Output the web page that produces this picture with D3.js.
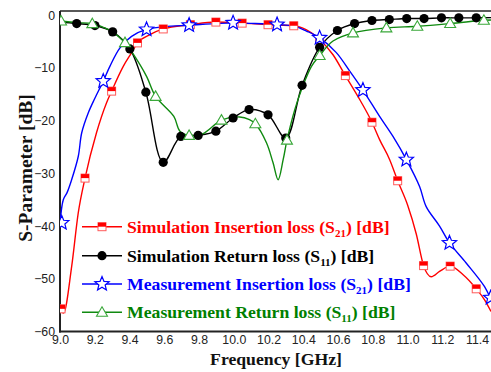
<!DOCTYPE html>
<html>
<head>
<meta charset="utf-8">
<script src="https://cdn.jsdelivr.net/npm/d3@7"></script>
<style>
  html, body { margin: 0; padding: 0; background: #fff; }
  svg { display: block; }
</style>
</head>
<body>
<svg id="chart" width="491" height="372"></svg>
<script>
// ---------- data (frequency in GHz, S-parameters in dB) ----------
const xTicks = [9.0, 9.2, 9.4, 9.6, 9.8, 10.0, 10.2, 10.4, 10.6, 10.8, 11.0, 11.2, 11.4];
const yTicks = [-60, -50, -40, -30, -20, -10, 0];

// Simulation insertion loss S21 (line)
const simS21Freq = [9.000, 9.020, 9.067, 9.105, 9.144, 9.210, 9.268, 9.297, 9.364, 9.412, 9.446, 9.517, 9.594, 9.750, 9.897, 10.048, 10.197, 10.345, 10.447, 10.494, 10.571, 10.642, 10.714, 10.795, 10.839, 10.897, 10.943, 11.000, 11.050, 11.092, 11.136, 11.184, 11.245, 11.318, 11.395, 11.443, 11.480];
const simS21dB   = [-55.7, -56.5, -47.7, -37.5, -30.9, -22.3, -16.6, -14.4, -9.7, -7.1, -5.25, -3.7, -2.6, -1.8, -1.3, -1.5, -1.8, -2.0, -3.35, -4.6, -7.5, -11.45, -15.4, -20.3, -23.6, -27.4, -31.4, -36.0, -41.5, -47.5, -49.6, -48.6, -47.6, -49.2, -51.9, -54.0, -56.2];
// Simulation insertion loss S21 (markers)
const simS21MkFreq = [9.006, 9.144, 9.297, 9.446, 9.594, 9.750, 9.897, 10.048, 10.197, 10.345, 10.494, 10.642, 10.795, 10.943, 11.092, 11.245, 11.395];
const simS21MkdB   = [-55.7, -30.9, -14.4, -5.25, -2.6, -1.8, -1.3, -1.5, -1.8, -2.0, -4.6, -11.45, -20.3, -31.4, -47.5, -47.6, -51.9];

// Simulation return loss S11 (line + markers)
const simS11Freq = [9.000, 9.096, 9.201, 9.303, 9.402, 9.494, 9.594, 9.695, 9.795, 9.897, 9.996, 10.088, 10.197, 10.299, 10.393, 10.494, 10.596, 10.695, 10.795, 10.895, 10.995, 11.095, 11.195, 11.295, 11.395, 11.480];
const simS11dB   = [-1.3, -1.58, -1.96, -3.16, -6.4, -14.6, -27.9, -23.0, -22.8, -22.0, -19.5, -17.9, -18.9, -23.3, -13.3, -6.1, -2.9, -1.58, -1.0, -0.82, -0.63, -0.63, -0.5, -0.5, -0.5, -0.45];
const simS11MkFreq = [9.096, 9.201, 9.303, 9.402, 9.494, 9.594, 9.695, 9.795, 9.897, 9.996, 10.088, 10.197, 10.299, 10.393, 10.494, 10.596, 10.695, 10.795, 10.895, 10.995, 11.095, 11.195, 11.295, 11.395];
const simS11MkdB   = [-1.58, -1.96, -3.16, -6.4, -14.6, -27.9, -23.0, -22.8, -22.0, -19.5, -17.9, -18.9, -23.3, -13.3, -6.1, -2.9, -1.58, -1.0, -0.82, -0.63, -0.63, -0.5, -0.5, -0.5];

// Measurement insertion loss S21
const measS21Freq = [9.000, 9.019, 9.040, 9.067, 9.105, 9.125, 9.163, 9.200, 9.249, 9.287, 9.345, 9.412, 9.498, 9.600, 9.743, 9.996, 10.100, 10.249, 10.350, 10.418, 10.494, 10.590, 10.667, 10.743, 10.839, 10.916, 10.993, 11.069, 11.107, 11.184, 11.241, 11.337, 11.443, 11.480];
const measS21dB   = [-39.6, -35.0, -33.7, -31.2, -26.8, -22.3, -18.5, -15.8, -12.5, -9.7, -6.2, -4.0, -2.7, -2.2, -1.9, -1.45, -1.55, -1.77, -2.1, -3.0, -4.3, -7.1, -10.6, -14.2, -19.2, -23.0, -27.4, -32.5, -36.3, -40.0, -43.2, -47.0, -51.5, -54.0];
const measS21MkFreq = [9.010, 9.249, 9.498, 9.743, 9.996, 10.249, 10.494, 10.743, 10.993, 11.241, 11.478];
const measS21MkdB   = [-39.4, -12.5, -2.7, -1.9, -1.45, -1.77, -4.3, -14.2, -27.4, -43.2, -53.6];

// Measurement return loss S11
const measS11Freq = [9.000, 9.100, 9.186, 9.250, 9.300, 9.374, 9.420, 9.498, 9.550, 9.655, 9.690, 9.743, 9.820, 9.929, 10.034, 10.090, 10.124, 10.188, 10.226, 10.255, 10.284, 10.306, 10.351, 10.393, 10.447, 10.494, 10.571, 10.686, 10.878, 11.056, 11.245, 11.439, 11.480];
const measS11dB   = [-1.1, -1.4, -1.6, -2.3, -3.1, -5.2, -7.3, -11.6, -15.4, -19.2, -22.0, -22.8, -22.5, -19.9, -19.3, -19.8, -20.6, -24.2, -28.0, -31.2, -27.4, -23.7, -17.9, -13.8, -9.7, -7.65, -4.9, -3.35, -2.4, -2.1, -1.58, -0.95, -0.9];
const measS11MkFreq = [9.006, 9.186, 9.374, 9.550, 9.743, 9.929, 10.124, 10.306, 10.494, 10.686, 10.878, 11.056, 11.245, 11.439];
const measS11MkdB   = [-1.1, -1.6, -5.2, -15.4, -22.8, -19.9, -20.6, -23.7, -7.65, -3.35, -2.4, -2.1, -1.58, -0.95];

const legendLabels = [
  ["Simulation Insertion loss (S", "21", ") [dB]"],
  ["Simulation Return loss (S", "11", ") [dB]"],
  ["Measurement Insertion loss (S", "21", ") [dB]"],
  ["Measurement Return loss (S", "11", ") [dB]"]
];

// ---------- chart ----------
const svg = d3.select("#chart");
const mLeft = 60, mRight = 491, mTop = 11, mBottom = 331.5;

const x = d3.scaleLinear().domain([9.0, 11.48]).range([mLeft, mRight]);
const y = d3.scaleLinear().domain([-60, 0.8]).range([mBottom, mTop]);

const zip = (a, b) => a.map((v, i) => [v, b[i]]);

// axes
const xAxis = svg.append("g").attr("transform", `translate(0,${mBottom})`)
  .call(d3.axisBottom(x).tickValues(xTicks).tickSize(0).tickPadding(4).tickFormat(d3.format(".1f")));
const yAxis = svg.append("g").attr("transform", `translate(${mLeft},0)`)
  .call(d3.axisLeft(y).tickValues(yTicks).tickSize(0).tickPadding(5).tickFormat(d3.format("d")));
[xAxis, yAxis].forEach(g => {
  g.select(".domain").remove();
  g.selectAll("text").attr("font-family", "'Liberation Sans', Arial, sans-serif")
    .attr("font-size", "12.3px").attr("fill", "#222");
});
// frame lines (left, bottom, top)
svg.append("line").attr("x1", mLeft).attr("x2", mLeft).attr("y1", mTop).attr("y2", mBottom + 1)
  .attr("stroke", "#222").attr("stroke-width", 2);
svg.append("line").attr("x1", mLeft - 1).attr("x2", mRight).attr("y1", mBottom).attr("y2", mBottom)
  .attr("stroke", "#222").attr("stroke-width", 2);
svg.append("line").attr("x1", mLeft).attr("x2", mRight).attr("y1", mTop).attr("y2", mTop)
  .attr("stroke", "#222").attr("stroke-width", 1.5);

// axis titles
svg.append("text").attr("x", 276).attr("y", 365).attr("text-anchor", "middle")
  .attr("font-family", "'Liberation Serif', 'Times New Roman', serif").attr("font-weight", "bold")
  .attr("font-size", "17.7px").attr("fill", "#111").text("Frequency [GHz]");
svg.append("text").attr("transform", "translate(32,168) rotate(-90)").attr("text-anchor", "middle")
  .attr("font-family", "'Liberation Serif', 'Times New Roman', serif").attr("font-weight", "bold")
  .attr("font-size", "19.5px").attr("fill", "#111").text("S-Parameter [dB]");

// plot clip
svg.append("clipPath").attr("id", "plotclip").append("rect")
  .attr("x", mLeft).attr("y", mTop - 10).attr("width", mRight - mLeft + 10).attr("height", mBottom - mTop + 10);
const plot = svg.append("g").attr("clip-path", "url(#plotclip)");

const lineSmooth = d3.line().x(d => x(d[0])).y(d => y(d[1])).curve(d3.curveMonotoneX);
const lineRaw = d3.line().x(d => x(d[0])).y(d => y(d[1])).curve(d3.curveCatmullRom.alpha(0.5));

// marker drawers
function starPath(ro, ri) {
  const pts = [];
  for (let i = 0; i < 10; i++) {
    const a = -Math.PI / 2 + i * Math.PI / 5;
    const r = i % 2 === 0 ? ro : ri;
    pts.push([r * Math.cos(a), r * Math.sin(a)]);
  }
  return "M" + pts.map(p => p.join(",")).join("L") + "Z";
}
const triPath = "M0,-5.5L5.5,4L-5.5,4Z";

function drawSquare(g, cx, cy) {
  g.append("rect").attr("x", cx - 4).attr("y", cy - 4).attr("width", 8).attr("height", 8)
    .attr("fill", "#fff").attr("stroke", "#ff5a5a").attr("stroke-width", 1);
  g.append("rect").attr("x", cx - 4).attr("y", cy - 4).attr("width", 8).attr("height", 4)
    .attr("fill", "#ff0000");
}
function drawCircle(g, cx, cy) {
  g.append("circle").attr("cx", cx).attr("cy", cy).attr("r", 4.6).attr("fill", "#000");
}
function drawStar(g, cx, cy) {
  g.append("path").attr("d", starPath(7.5, 3.3)).attr("transform", `translate(${cx},${cy})`)
    .attr("fill", "#fff").attr("stroke", "#0000ff").attr("stroke-width", 1.2);
}
function drawTri(g, cx, cy) {
  g.append("path").attr("d", triPath).attr("transform", `translate(${cx},${cy})`)
    .attr("fill", "#fff").attr("stroke", "#3aa83a").attr("stroke-width", 1.1);
}

const series = [
  { line: zip(simS21Freq, simS21dB), mk: zip(simS21MkFreq, simS21MkdB), color: "#ff0000", text: "#ff0000", gen: lineSmooth, draw: drawSquare },
  { line: zip(simS11Freq, simS11dB), mk: zip(simS11MkFreq, simS11MkdB), color: "#000000", text: "#000000", gen: lineRaw, draw: drawCircle },
  { line: zip(measS21Freq, measS21dB), mk: zip(measS21MkFreq, measS21MkdB), color: "#0000ff", text: "#0000ff", gen: lineRaw, draw: drawStar },
  { line: zip(measS11Freq, measS11dB), mk: zip(measS11MkFreq, measS11MkdB), color: "#108a10", text: "#008000", gen: lineRaw, draw: drawTri }
];

series.forEach(s => {
  plot.append("path").datum(s.line).attr("d", s.gen).attr("fill", "none")
    .attr("stroke", s.color).attr("stroke-width", 1.4);
});
series.forEach(s => {
  const g = plot.append("g");
  s.mk.forEach(d => s.draw(g, x(d[0]), y(d[1])));
});

// legend
const legendRows = [226.7, 255.7, 284, 312.3];
series.forEach((s, i) => {
  const cy = legendRows[i];
  const g = svg.append("g");
  g.append("line").attr("x1", 82).attr("x2", 122).attr("y1", cy).attr("y2", cy)
    .attr("stroke", s.color).attr("stroke-width", 1.4);
  s.draw(g, 102, cy);
  const t = g.append("text").attr("x", 127).attr("y", cy + 6)
    .attr("font-family", "'Liberation Serif', 'Times New Roman', serif").attr("font-weight", "bold")
    .attr("font-size", "17.7px").attr("fill", s.text);
  t.append("tspan").text(legendLabels[i][0]);
  t.append("tspan").attr("font-size", "11px").attr("dy", 4).text(legendLabels[i][1]);
  t.append("tspan").attr("dy", -4).text(legendLabels[i][2]);
});
</script>
</body>
</html>
